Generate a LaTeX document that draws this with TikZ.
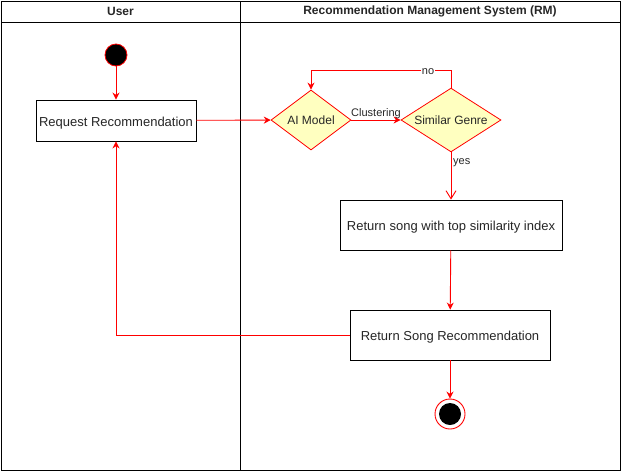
\documentclass[tikz,border=0pt]{standalone}
\usepackage{fontspec}
\setmainfont{Liberation Sans}
\usetikzlibrary{arrows.meta,shapes.geometric}
\definecolor{dfill}{HTML}{FFFFC0}
\definecolor{ared}{HTML}{FF0000}
\begin{document}
\begin{tikzpicture}[x=1pt,y=-1pt,
  lane/.style={draw=black,line width=1pt},
  hdr/.style={font=\bfseries\fontsize{12}{14}\selectfont,text=black!85},
  actbox/.style={draw=black,line width=0.9pt,fill=white,minimum height=41pt,inner sep=0pt,text height=13pt,text depth=1.2pt,font=\fontsize{13}{15}\selectfont,text=black!85},
  decision/.style={diamond,draw=ared,fill=dfill,line width=0.8pt,inner sep=0pt,aspect=1.333,font=\fontsize{12}{14}\selectfont,text=black!85},
  flow/.style={draw=ared,line width=0.9pt,-{Stealth[length=7pt,width=7pt]}},
  openflow/.style={draw=ared,line width=0.9pt,-{Straight Barb[length=8pt,width=10pt]}},
  lbl/.style={font=\fontsize{11}{13}\selectfont,text=black!85,inner sep=1pt}]
\useasboundingbox (0,0) rectangle (621,472);
% swimlanes
\draw[lane] (1,1) rectangle (620,470);
\draw[lane] (1,22) -- (620,22);
\draw[lane] (240,1) -- (240,470);
\node[hdr] (hUser) at (120.5,11.5) {User};
\node[hdr] (hRM) at (430,11.5) {Recommendation Management System (RM)};
% nodes
\node[circle,fill=black,draw=ared,line width=0.8pt,minimum size=22pt,inner sep=0pt] (start) at (116,55) {};
\node[actbox,minimum width=160pt] (req) at (116,120.5) {Request Recommendation};
\node[decision,minimum width=80pt,minimum height=60pt] (ai) at (311,120) {AI Model};
\node[decision,minimum width=100pt,minimum height=60pt] (sg) at (451,120) {Similar Genre};
\node[actbox,minimum width=222pt,minimum height=50pt] (ret) at (451,225) {Return song with top similarity index};
\node[actbox,minimum width=200pt,minimum height=50pt] (rsr) at (450,335) {Return Song Recommendation};
\node[circle,draw=ared,line width=0.9pt,fill=white,minimum size=30pt,inner sep=0pt] (endo) at (450,414) {};
\node[circle,fill=black,minimum size=22pt,inner sep=0pt] (endi) at (450,414) {};
\coordinate (loopR) at (451,70);
\coordinate (loopL) at (311,70);
\coordinate (backC) at (116,335);
% connectors
\draw[flow] (start) -- (req);
\draw[flow] (req) -- (ai);
\draw[flow] (ai) -- node[lbl,above] {Clustering} (sg);
\draw[flow] (sg.north) -- (loopR) -- (loopL) -- (ai.north);
\node[lbl,fill=white] (noL) at (428,72) {no};
\draw[openflow] (sg.south) -- (ret.north);
\node[lbl,anchor=west] (yesL) at (452,163) {yes};
\draw[flow] (ret) -- (rsr);
\draw[flow] (rsr) -- (endo);
\draw[flow] (rsr.west) -- (backC) -- (req.south);
\end{tikzpicture}
\end{document}
